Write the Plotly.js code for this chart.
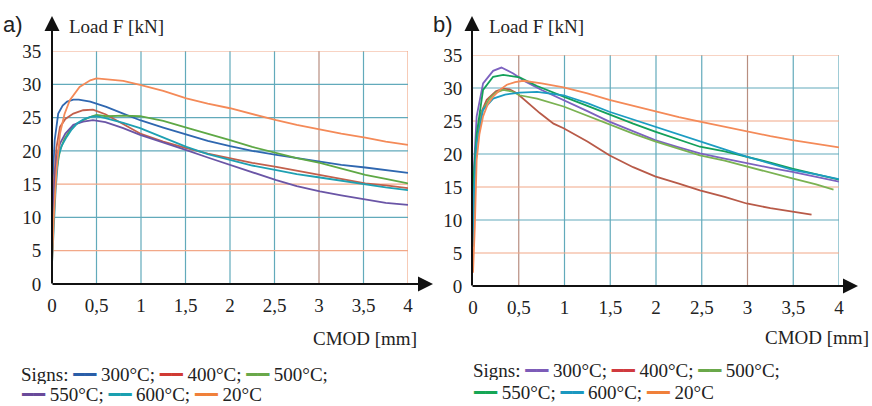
<!DOCTYPE html>
<html>
<head>
<meta charset="utf-8">
<script src="https://cdn.plot.ly/plotly-3.0.1.min.js"></script>
<style>html,body{margin:0;padding:0;background:#fff;}#chart{width:872px;height:406px;}</style>
</head>
<body>
<div id="chart"></div>
<script>
// ---------- DATA ----------
const xTickVals = [0, 0.5, 1, 1.5, 2, 2.5, 3, 3.5, 4];
const xTickText = ['0', '0,5', '1', '1,5', '2', '2,5', '3', '3,5', '4'];
const yTickVals = [0, 5, 10, 15, 20, 25, 30, 35];
const seriesNames = ['300°C', '400°C', '500°C', '550°C', '600°C', '20°C'];

// Panel a)
const a300x = [0,0.01,0.03,0.07,0.12,0.17,0.24,0.3,0.43,0.61,0.8,0.99,1.25,1.51,1.75,2.0,2.25,2.52,2.75,3.01,3.25,3.52,3.75,4.0];
const a300y = [5,16,21.6,25.6,26.8,27.4,27.7,27.7,27.4,26.6,25.6,24.6,23.5,22.4,21.5,20.7,20.0,19.4,18.9,18.4,17.9,17.5,17.1,16.7];
const a400x = [0,0.02,0.05,0.09,0.15,0.24,0.35,0.46,0.6,0.8,0.99,1.25,1.51,1.75,2.0,2.25,2.52,2.75,3.01,3.25,3.52,3.75,4.0];
const a400y = [4,15,20.5,23.6,24.8,25.6,26.1,26.2,25.5,24.0,22.6,21.4,20.4,19.6,18.9,18.2,17.6,17.0,16.4,15.7,15.1,14.8,14.4];
const a500x = [0,0.02,0.05,0.09,0.14,0.2,0.27,0.35,0.45,0.5,0.61,0.8,0.99,1.25,1.51,1.75,2.0,2.25,2.52,2.75,3.01,3.25,3.52,3.75,4.0];
const a500y = [4,12,17,20.1,21.8,23.1,24.0,24.6,25.2,25.4,25.2,25.3,25.2,24.5,23.5,22.6,21.6,20.6,19.7,18.9,18.2,17.3,16.4,15.8,15.1];
const a550x = [0,0.02,0.05,0.09,0.15,0.24,0.35,0.46,0.6,0.8,0.99,1.25,1.51,1.75,2.0,2.25,2.52,2.75,3.01,3.25,3.52,3.75,4.0];
const a550y = [4,14,18.8,21.1,22.6,23.9,24.4,24.6,24.3,23.4,22.4,21.3,20.1,19.0,17.9,16.7,15.6,14.7,13.9,13.3,12.7,12.2,11.9];
const a600x = [0,0.02,0.04,0.07,0.11,0.165,0.22,0.28,0.35,0.43,0.5,0.6,0.8,0.99,1.25,1.51,1.75,2.0,2.25,2.52,2.75,3.01,3.25,3.52,3.75,4.0];
const a600y = [3,9,14,19.1,20.8,22.1,23.2,24.1,24.7,25.1,25.2,24.9,24.2,23.4,22.0,20.6,19.5,18.6,17.8,17.1,16.5,16.0,15.5,15.0,14.5,14.1];
const a20x = [0,0.02,0.05,0.09,0.14,0.2,0.31,0.43,0.5,0.6,0.8,0.99,1.25,1.51,1.75,2.0,2.25,2.52,2.75,3.01,3.25,3.52,3.75,4.0];
const a20y = [3,10,17,22.6,25.5,27.6,29.6,30.6,30.9,30.8,30.5,29.9,29.0,27.9,27.1,26.4,25.5,24.6,23.9,23.2,22.6,22.0,21.4,20.9];

// Panel b)
const b300x = [0,0.01,0.04,0.11,0.22,0.31,0.44,0.57,0.75,0.99,1.25,1.49,1.75,1.99,2.25,2.48,2.75,2.99,3.25,3.49,3.75,4.0];
const b300y = [8,18,25.7,30.7,32.6,33.1,32.2,31.0,29.7,28.2,26.5,24.9,23.4,22.1,21.0,20.1,19.3,18.6,17.9,17.3,16.5,15.8];
const b400x = [0,0.01,0.04,0.08,0.15,0.25,0.33,0.4,0.48,0.59,0.73,0.88,0.99,1.25,1.49,1.75,1.99,2.25,2.48,2.75,2.99,3.25,3.49,3.7];
const b400y = [6,14,22,26,28.2,29.5,29.9,29.8,29.2,27.9,26.2,24.6,23.9,21.9,19.8,18.0,16.6,15.5,14.5,13.5,12.5,11.8,11.3,10.8];
const b500x = [0,0.01,0.04,0.1,0.18,0.25,0.33,0.42,0.51,0.7,0.99,1.25,1.49,1.75,1.99,2.25,2.48,2.75,2.99,3.25,3.49,3.75,3.94];
const b500y = [6,15,22,26.5,28.4,29.3,29.7,29.5,28.9,28.4,27.2,25.8,24.4,23.1,21.9,20.8,19.8,19.0,18.1,17.2,16.3,15.4,14.6];
const b550x = [0,0.01,0.04,0.11,0.22,0.33,0.51,0.7,0.99,1.25,1.49,1.75,1.99,2.25,2.48,2.75,2.99,3.25,3.49,3.75,4.0];
const b550y = [7,17,23,29.7,31.7,32.0,31.6,30.3,28.7,27.3,25.9,24.6,23.4,22.2,21.1,20.4,19.6,18.7,17.8,16.9,16.1];
const b600x = [0,0.01,0.04,0.11,0.22,0.35,0.51,0.7,0.99,1.25,1.49,1.75,1.99,2.25,2.48,2.75,2.99,3.25,3.49,3.75,4.0];
const b600y = [6,14,21.6,26.7,28.4,29.0,29.3,29.4,28.9,27.7,26.4,25.2,24.1,23.0,21.9,20.7,19.6,18.6,17.6,16.9,16.2];
const b20x = [0,0.02,0.04,0.07,0.11,0.16,0.22,0.3,0.37,0.46,0.55,0.75,0.99,1.25,1.49,1.75,1.99,2.25,2.48,2.75,2.99,3.25,3.49,3.75,4.0];
const b20y = [2,9,19.1,23,25.7,27.5,28.7,29.8,30.5,30.9,31.1,30.7,30.1,29.2,28.2,27.3,26.4,25.6,24.9,24.1,23.4,22.7,22.1,21.5,21.0];

// ---------- STYLE ----------
const W = 872, H = 406;
const colorsA = ['#2f67b0', '#c2604c', '#5ea845', '#6a55a6', '#1ea0b2', '#f48a58'];
const colorsB = ['#7d62c0', '#b85a48', '#7ab252', '#14a05a', '#1c9cc2', '#f48a58'];
const legendA = ['#2a5ea8', '#d03a34', '#6aa84a', '#6a4a9a', '#1aa0b0', '#f0803a'];
const legendB = ['#7d5cb8', '#d03a40', '#6aa84a', '#16a655', '#1a98c0', '#f0803a'];
const TEAL = '#62aabb', SALMON = '#f2a888', BROWN = '#b88e80';
const serif = '"Liberation Serif", "Times New Roman", serif';
const sans = '"Liberation Sans", Arial, sans-serif';

const dataA = [[a300x,a300y],[a400x,a400y],[a500x,a500y],[a550x,a550y],[a600x,a600y],[a20x,a20y]];
const dataB = [[b300x,b300y],[b400x,b400y],[b500x,b500y],[b550x,b550y],[b600x,b600y],[b20x,b20y]];

const traces = [];
dataA.forEach((d, i) => traces.push({x: d[0], y: d[1], xaxis: 'x', yaxis: 'y', type: 'scatter', mode: 'lines',
  name: seriesNames[i], line: {color: colorsA[i], width: 1.8}, showlegend: false, hoverinfo: 'skip'}));
dataB.forEach((d, i) => traces.push({x: d[0], y: d[1], xaxis: 'x2', yaxis: 'y2', type: 'scatter', mode: 'lines',
  name: seriesNames[i], line: {color: colorsB[i], width: 1.8}, showlegend: false, hoverinfo: 'skip'}));

function px2fx(p) { return p / W; }
function py2fy(p) { return (H - p) / H; }

const xAxisBase = {range: [0, 4], tickmode: 'array', tickvals: xTickVals, ticktext: xTickText,
  showgrid: false, zeroline: false, showline: false, ticks: 'outside', ticklen: 4, tickcolor: 'rgba(0,0,0,0)',
  tickfont: {family: serif, size: 19, color: '#222'}, fixedrange: true};
const yAxisBase = {range: [0, 35], tickmode: 'array', tickvals: yTickVals,
  showgrid: false, zeroline: false, showline: false, ticks: 'outside', ticklen: 6, tickcolor: 'rgba(0,0,0,0)',
  tickfont: {family: serif, size: 19, color: '#222'}, fixedrange: true};

// grid shapes
const shapes = [];
function addGrid(xa, ya, vColors, hColors) {
  xTickVals.forEach((v, i) => { if (v > 0) shapes.push({type: 'line', layer: 'below', xref: xa, yref: ya + ' domain',
    x0: v, x1: v, y0: 0, y1: 1, line: {color: vColors[i], width: 1.2}}); });
  yTickVals.forEach((v, i) => { if (v > 0) shapes.push({type: 'line', layer: 'below', xref: xa + ' domain', yref: ya,
    x0: 0, x1: 1, y0: v, y1: v, line: {color: hColors[i], width: 1.2}}); });
}
addGrid('x', 'y',
  [TEAL, TEAL, TEAL, TEAL, TEAL, TEAL, BROWN, TEAL, SALMON],
  [TEAL, SALMON, TEAL, SALMON, TEAL, TEAL, TEAL, SALMON]);
addGrid('x2', 'y2',
  [TEAL, BROWN, TEAL, TEAL, TEAL, TEAL, BROWN, TEAL, TEAL],
  [TEAL, SALMON, TEAL, SALMON, TEAL, SALMON, TEAL, SALMON]);

const annotations = [];
function arrow(tipX, tipY, tailX, tailY) {
  annotations.push({xref: 'paper', yref: 'paper', x: px2fx(tipX), y: py2fy(tipY), ax: tailX - tipX, ay: tailY - tipY,
    text: '', showarrow: true, arrowhead: 2, arrowsize: 1.5, arrowwidth: 2, arrowcolor: '#111', standoff: 0});
}
arrow(52, 16, 52, 285);
arrow(433, 284, 51, 284);
arrow(472, 16, 472, 287);
arrow(858, 286, 471, 286);

function label(text, x, y, anchor, font, h) {
  const a = {xref: 'paper', yref: 'paper', x: px2fx(x), y: py2fy(y), xanchor: anchor, yanchor: 'middle',
    text: text, showarrow: false, font: font};
  if (h) { a.height = h; a.valign = 'middle'; }
  annotations.push(a);
}
label('a)', 1, 24, 'left', {family: sans, size: 22, color: '#222'});
label('b)', 431, 24, 'left', {family: sans, size: 22, color: '#222'});
label('Load F [kN]', 67, 27, 'left', {family: serif, size: 19, color: '#222'});
label('Load F [kN]', 487, 26, 'left', {family: serif, size: 19, color: '#222'});
label('CMOD [mm]', 419, 338, 'right', {family: serif, size: 19, color: '#222'});
label('CMOD [mm]', 871, 337, 'right', {family: serif, size: 19, color: '#222'});

function sw(c) { return '<span style="color:' + c + ';font-family:DejaVu Sans">━━</span>'; }
function legendLines(cols) {
  return [
    'Signs: ' + sw(cols[0]) + ' ' + seriesNames[0] + '; ' + sw(cols[1]) + ' ' + seriesNames[1] + '; ' + sw(cols[2]) + ' ' + seriesNames[2] + ';',
    sw(cols[3]) + ' ' + seriesNames[3] + '; ' + sw(cols[4]) + ' ' + seriesNames[4] + '; ' + sw(cols[5]) + ' ' + seriesNames[5]
  ];
}
const la = legendLines(legendA), lb = legendLines(legendB);
const lf = {family: serif, size: 19, color: '#222'};
label(la[0], 19, 374, 'left', lf, 20);
label(la[1], 19, 394, 'left', lf, 20);
label(lb[0], 471, 370, 'left', lf, 20);
label(lb[1], 471, 392, 'left', lf, 20);

const layout = {
  width: W, height: H, margin: {l: 0, r: 0, t: 0, b: 0},
  paper_bgcolor: '#fff', plot_bgcolor: '#fff', showlegend: false,
  font: {family: serif, size: 19, color: '#222'},
  xaxis: Object.assign({}, xAxisBase, {domain: [px2fx(52), px2fx(408)], anchor: 'y'}),
  yaxis: Object.assign({}, yAxisBase, {domain: [py2fy(284), py2fy(51)], anchor: 'x'}),
  xaxis2: Object.assign({}, xAxisBase, {domain: [px2fx(473), px2fx(839)], anchor: 'y2'}),
  yaxis2: Object.assign({}, yAxisBase, {domain: [py2fy(286), py2fy(55)], anchor: 'x2'}),
  shapes: shapes, annotations: annotations
};
Plotly.newPlot('chart', traces, layout, {displayModeBar: false, staticPlot: true});
</script>
</body>
</html>
